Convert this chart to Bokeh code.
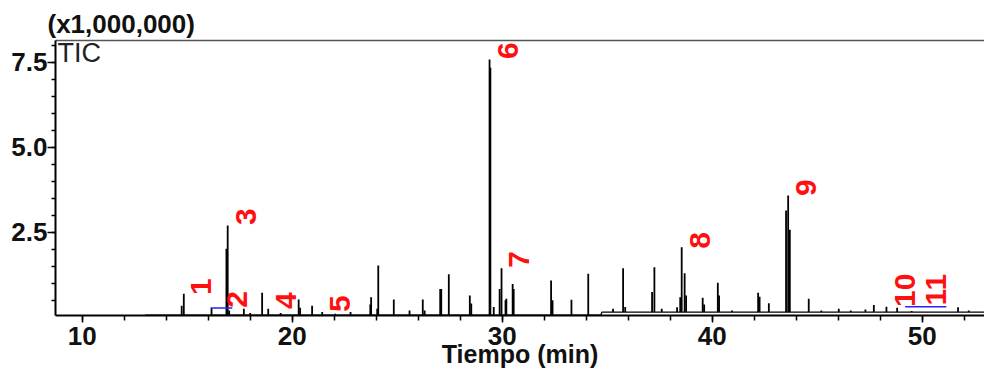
import numpy as np
from bokeh.plotting import figure
from bokeh.models import Range1d, FixedTicker, LinearAxis, ColumnDataSource
from bokeh.core.properties import value
from bokeh.embed import file_html
from bokeh.resources import INLINE

# ---- data -------------------------------------------------------------
peak_rt = [14.74, 14.84, 16.16, 16.87, 16.93, 17.00, 17.70, 18.00, 18.57, 18.86,
           19.45, 20.31, 20.38, 20.95, 21.43, 22.05, 22.78, 23.72, 23.76, 24.05,
           24.10, 24.84, 25.59, 26.22, 26.31, 27.05, 27.10, 27.46, 28.46, 28.53,
           29.40, 29.44, 29.60, 29.88, 29.97, 30.16, 30.20, 30.50, 30.55, 32.33,
           32.40, 33.30, 34.10, 35.28, 35.76, 35.86, 37.14, 37.25, 37.60, 38.33,
           38.48, 38.55, 38.69, 38.76, 39.55, 39.62, 40.27, 40.33, 40.95, 42.19,
           42.26, 42.70, 43.52, 43.62, 43.70, 44.60, 45.20, 46.03, 46.60, 47.30,
           47.70, 48.30, 48.81, 49.50, 51.71, 52.22]
peak_height = [0.34, 0.69, 0.27, 2.01, 2.70, 0.20, 0.25, 0.12, 0.72, 0.25,
               0.12, 0.52, 0.28, 0.34, 0.15, 0.10, 0.15, 0.37, 0.59, 0.25,
               1.52, 0.52, 0.20, 0.52, 0.20, 0.83, 0.83, 1.26, 0.64, 0.40,
               7.58, 7.34, 0.30, 0.83, 1.44, 0.50, 0.54, 0.98, 0.83, 1.08,
               0.50, 0.51, 1.28, 0.25, 1.44, 0.30, 0.74, 1.47, 0.25, 0.29,
               0.59, 2.06, 1.29, 0.64, 0.57, 0.37, 1.01, 0.64, 0.20, 0.72,
               0.60, 0.41, 3.14, 3.58, 2.57, 0.54, 0.20, 0.25, 0.20, 0.23,
               0.36, 0.31, 0.28, 0.18, 0.29, 0.20]

baseline_rt = [13.0, 34.70, 34.75, 53.30]
baseline_level = [0.06, 0.06, 0.15, 0.15]

label_text = ["1", "2", "3", "4", "5", "6", "7", "8", "9", "10", "11"]
label_rt = [15.68, 17.35, 17.82, 19.73, 22.30, 30.30, 30.82, 39.44, 44.49, 49.20, 50.68]
label_y = [0.90, 0.52, 2.96, 0.49, 0.40, 7.84, 1.70, 2.26, 3.81, 0.79, 0.81]

integ_x0 = [16.12, 49.19]
integ_x1 = [17.15, 51.15]
integ_y = [0.27, 0.31]

x_ticks = [10, 20, 30, 40, 50]
x_minor = [10, 12, 14, 16, 18, 20, 22, 24, 26, 28, 30, 32, 34, 36, 38, 40,
           42, 44, 46, 48, 50, 52]
y_ticks = [2.5, 5.0, 7.5]
y_tick_labels = ["2.5", "5.0", "7.5"]
y_minor = [0.5, 1.0, 1.5, 2.0, 2.5, 3.0, 3.5, 4.0, 4.5, 5.0, 5.5, 6.0, 6.5,
           7.0, 7.5, 8.0]

# ---- figure -----------------------------------------------------------
FONT = "Liberation Sans"

p = figure(width=984, height=370, output_backend="svg", toolbar_location=None,
           x_range=Range1d(8.73, 52.97), y_range=Range1d(0.05, 8.14),
           min_border_left=55, min_border_right=0, min_border_top=40,
           min_border_bottom=10)
p.background_fill_color = "white"
p.border_fill_color = "white"
p.outline_line_color = None
p.xgrid.visible = False
p.ygrid.visible = False

p.title.text = "(x1,000,000)"
p.title.text_font = FONT
p.title.text_font_size = "26px"
p.title.text_font_style = "bold"
p.title.text_color = "#111111"
p.title.align = "left"
p.title.offset = -8
p.title.standoff = 3

# x axis
xa = p.xaxis[0]
xa.ticker = FixedTicker(ticks=x_ticks, minor_ticks=x_minor)
xa.axis_label = "Tiempo (min)"
xa.axis_label_text_font = FONT
xa.axis_label_text_font_size = "25px"
xa.axis_label_text_font_style = "bold"
xa.axis_label_text_color = "#111111"
xa.axis_label_standoff = -8
xa.major_label_text_font = FONT
xa.major_label_text_font_size = "26px"
xa.major_label_text_font_style = "bold"
xa.major_label_text_color = "#111111"
xa.major_label_standoff = 4
xa.major_tick_in = 0
xa.major_tick_out = 7
xa.minor_tick_in = 0
xa.minor_tick_out = 5
xa.axis_line_width = 2
xa.major_tick_line_width = 1.5
xa.minor_tick_line_width = 1.5

# y axis
ya = p.yaxis[0]
ya.ticker = FixedTicker(ticks=y_ticks, minor_ticks=y_minor)
ya.major_label_overrides = {t: s for t, s in zip(y_ticks, y_tick_labels)}
ya.major_label_text_font = FONT
ya.major_label_text_font_size = "26px"
ya.major_label_text_font_style = "bold"
ya.major_label_text_color = "#111111"
ya.major_label_standoff = 0
ya.major_tick_in = 0
ya.major_tick_out = 8
ya.minor_tick_in = 0
ya.minor_tick_out = 4
ya.axis_line_width = 2
ya.major_tick_line_width = 1.5
ya.minor_tick_line_width = 1.5

# top border line
top = LinearAxis(ticker=FixedTicker(ticks=[]), major_label_text_font_size="0px",
                 major_tick_line_color=None, minor_tick_line_color=None,
                 axis_line_color="#555555", axis_line_width=1.5,
                 major_label_standoff=0)
p.add_layout(top, "above")

# chromatogram
base_at_peak = np.interp(peak_rt, baseline_rt, baseline_level)
src = ColumnDataSource(dict(x=peak_rt, y0=base_at_peak, y1=peak_height))
p.line(baseline_rt, baseline_level, line_color="black", line_width=1.3)
p.segment(x0="x", y0="y0", x1="x", y1="y1", source=src,
          line_color="black", line_width=1.8)

# integration markers
p.segment(x0=integ_x0, y0=integ_y, x1=integ_x1, y1=integ_y,
          line_color="#2222ff", line_width=1.5)

# TIC
p.text(x=[8.83], y=[8.22], text=["TIC"], text_font=value(FONT),
       text_font_size="27px", text_color="#222222",
       text_align="left", text_baseline="top")

# peak numbers
p.text(x=label_rt, y=label_y, text=label_text, angle=np.pi / 2,
       text_font=value(FONT), text_font_size="30px", text_font_style="bold",
       text_color="#ff1010", text_align="center", text_baseline="middle")

open("out.html", "w").write(file_html(p, INLINE))
